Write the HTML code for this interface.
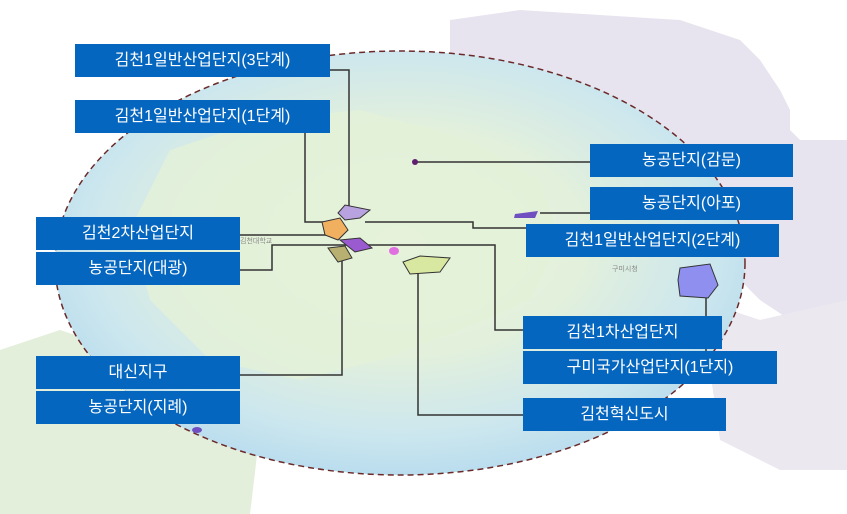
<!DOCTYPE html>
<html><head><meta charset="utf-8"><style>
body{margin:0;width:847px;height:514px;overflow:hidden;background:#fff;position:relative;font-family:"Liberation Sans","Noto Sans CJK KR",sans-serif}
svg{position:absolute;left:0;top:0}
.b{position:absolute;background:#0566bf;color:#fff;font-size:16px;line-height:33px;height:33px;text-align:center}
</style></head><body>
<svg width="847" height="514">
<defs>
<radialGradient id="g" cx="0.5" cy="0.45" r="0.6">
<stop offset="0" stop-color="#eef5e2"/><stop offset="0.45" stop-color="#e2f0dc"/><stop offset="0.75" stop-color="#cde7ee"/><stop offset="1" stop-color="#b0d8ee"/>
</radialGradient>
</defs>
<path d="M450,20 L520,10 L600,15 L680,20 L740,40 L760,60 L780,90 L790,110 L790,130 L800,140 L847,140 L847,320 L790,320 L760,300 L720,260 L600,220 L500,170 L450,100 Z" fill="#e8e4ef"/>
<path d="M0,350 L60,330 L150,360 L220,380 L260,430 L250,514 L0,514 Z" fill="#e3eedb"/>
<path d="M700,300 L760,320 L847,300 L847,470 L780,470 L720,440 Z" fill="#ebe8ef"/>
<ellipse cx="400" cy="263" rx="345" ry="212" fill="url(#g)"/>
<path d="M170,150 L260,120 L360,110 L470,140 L540,180 L560,240 L530,300 L460,330 L380,360 L300,380 L210,360 L150,300 L130,230 Z" fill="#e4f1d8" opacity="0.8"/>
<ellipse cx="400" cy="263" rx="345" ry="212" fill="none" stroke="#6b2a2a" stroke-width="1.5" stroke-dasharray="6,4"/>
<g fill="none" stroke="#333" stroke-width="1.5">
<path d="M330,70 H349 V208"/>
<path d="M305,133 V222 H335"/>
<path d="M240,235 H330"/>
<path d="M240,270 H272 V245 H495 V330 H523"/>
<path d="M365,222 H473 V228 H526"/>
<path d="M415,162 H590"/>
<path d="M540,213 H590"/>
<path d="M240,375 H342 V252"/>
<path d="M418,268 V415 H523"/>
<path d="M706,295 V351"/>
</g>
<path d="M338,213 L345,205 L370,210 L360,218 L345,220 Z" fill="#b9a2e0" stroke="#333"/>
<path d="M322,222 L340,218 L348,230 L338,240 L325,235 Z" fill="#f0b060" stroke="#333"/>
<path d="M340,240 L360,238 L372,248 L355,252 Z" fill="#9a5ad0" stroke="#333"/>
<path d="M328,248 L345,246 L352,258 L338,262 Z" fill="#b8b070" stroke="#333"/>
<path d="M403,262 L420,256 L450,258 L440,272 L410,274 Z" fill="#d8e8a0" stroke="#333"/>
<path d="M680,268 L710,264 L718,285 L708,298 L680,296 L678,280 Z" fill="#8f8ff0" stroke="#333"/>
<path d="M515,214 L538,211 L535,218 L514,218 Z" fill="#7050c0"/>
<ellipse cx="197" cy="430" rx="5" ry="3" fill="#7050c0"/>
<ellipse cx="394" cy="251" rx="5" ry="4" fill="#e070e0"/>
<circle cx="415" cy="162" r="3" fill="#602070"/>
<text x="612" y="271" font-size="7" fill="#888">구미시청</text>
<text x="240" y="243" font-size="7" fill="#888">김천대학교</text>
</svg>
<div class="b" style="left:75px;top:44px;width:255px">김천1일반산업단지(3단계)</div>
<div class="b" style="left:75px;top:100px;width:255px">김천1일반산업단지(1단계)</div>
<div class="b" style="left:36px;top:217px;width:204px">김천2차산업단지</div>
<div class="b" style="left:36px;top:252px;width:204px">농공단지(대광)</div>
<div class="b" style="left:36px;top:356px;width:204px">대신지구</div>
<div class="b" style="left:36px;top:391px;width:204px">농공단지(지례)</div>
<div class="b" style="left:590px;top:144px;width:203px">농공단지(감문)</div>
<div class="b" style="left:590px;top:187px;width:203px">농공단지(아포)</div>
<div class="b" style="left:526px;top:224px;width:253px">김천1일반산업단지(2단계)</div>
<div class="b" style="left:523px;top:316px;width:199px">김천1차산업단지</div>
<div class="b" style="left:523px;top:351px;width:254px">구미국가산업단지(1단지)</div>
<div class="b" style="left:523px;top:398px;width:203px">김천혁신도시</div>
</body></html>
